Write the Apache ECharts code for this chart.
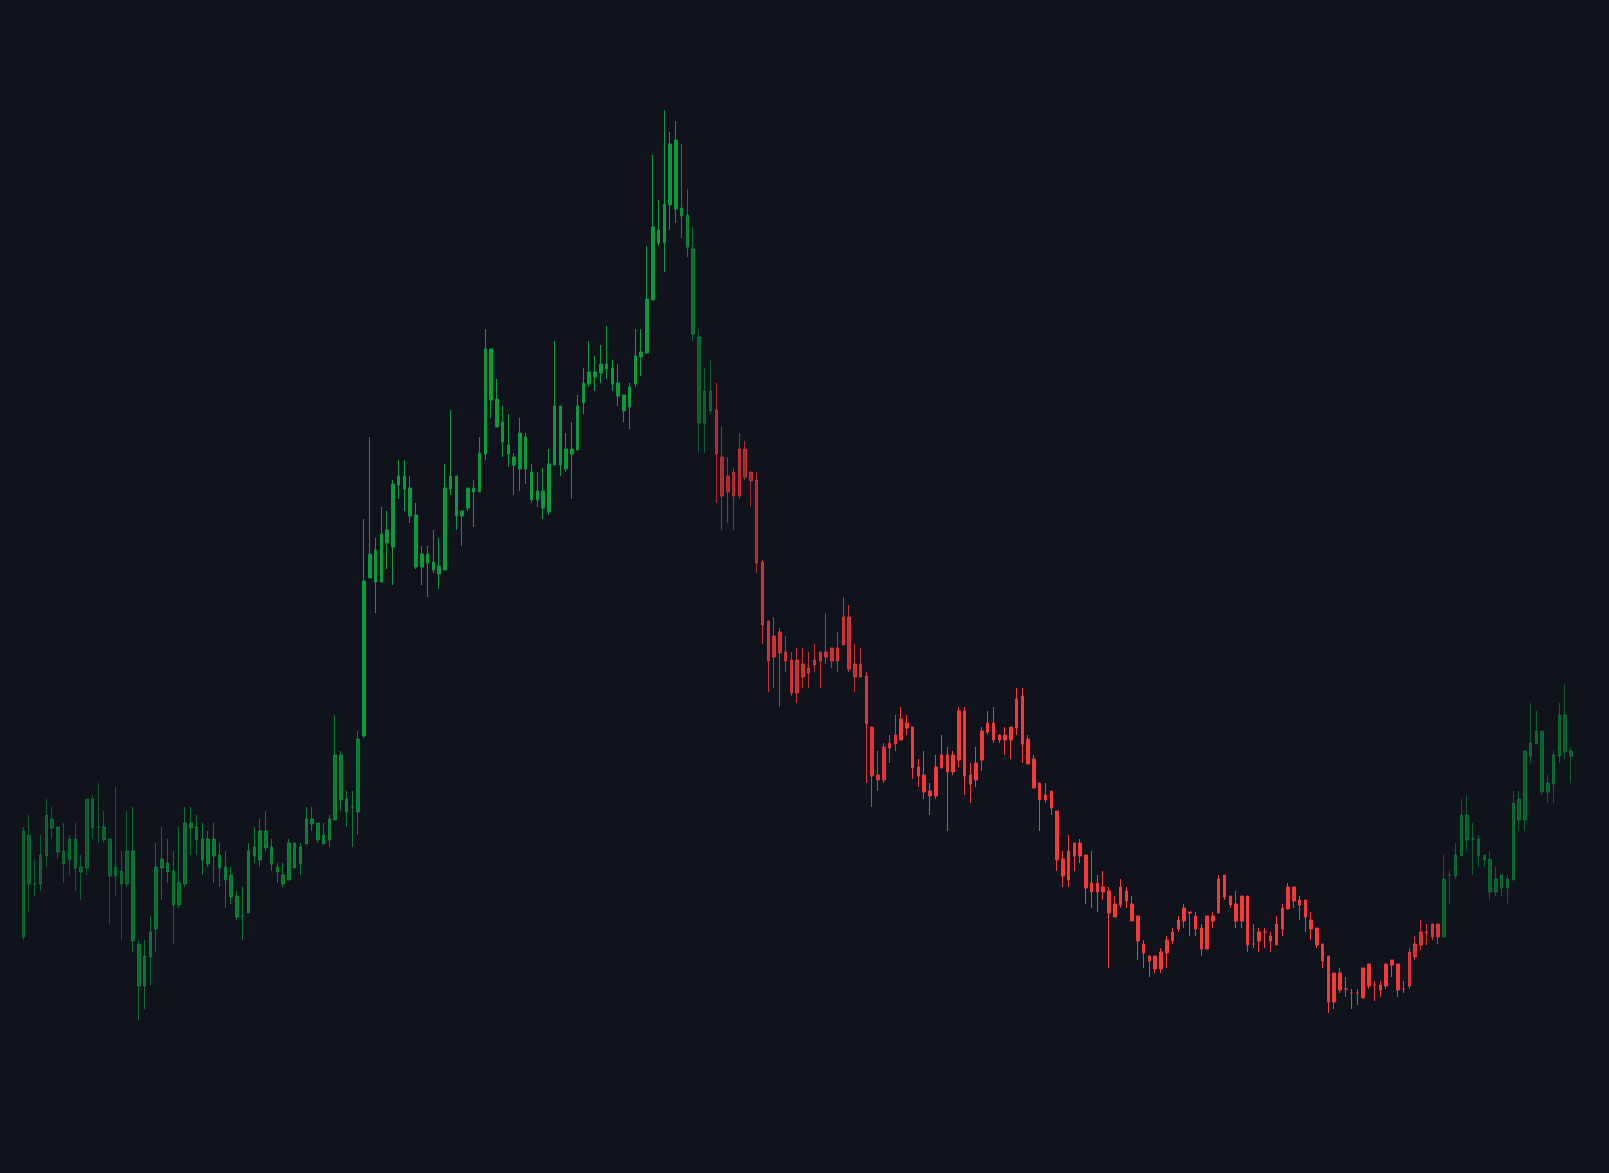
<!DOCTYPE html>
<html>
<head>
<meta charset="utf-8">
<script src="https://cdn.jsdelivr.net/npm/echarts@6/dist/echarts.min.js"></script>
<style>
html,body{margin:0;padding:0;background:#10131c;}
#chart{width:1609px;height:1173px;}
</style>
</head>
<body>
<div id="chart"></div>
<script>
// Price values (body edges, wick extremes), one per session.
const highs = [373,385,341,365,401,393,373,377,365,377,345,401,405,417,389,361,413,349,389,393,
260,260,284,357,373,361,349,373,393,393,385,377,369,377,357,349,333,309,313,357,
373,381,389,361,337,337,361,357,357,393,393,377,377,385,485,449,409,409,469,681,
763,662,693,689,720,740,740,724,697,654,654,670,662,736,790,724,689,712,720,763,
871,851,821,794,786,747,782,767,736,728,732,751,859,794,767,778,805,832,859,844,
855,874,840,836,805,817,871,871,954,1045,1000,1090,1068,1079,1056,1011,973,871,832,840,
817,774,743,732,767,759,728,728,640,579,583,572,564,548,552,552,548,556,548,587,
552,568,603,595,556,552,528,473,449,457,465,485,493,485,473,441,449,417,445,465,
453,449,493,493,437,453,473,489,493,465,473,473,512,512,465,445,417,417,409,389,
349,365,357,361,345,349,325,329,313,304,321,313,304,284,260,244,244,252,264,272,
284,296,288,288,276,284,288,325,325,304,309,304,304,276,272,272,268,284,296,317,
313,304,300,288,272,256,244,227,232,223,211,211,232,236,219,219,236,240,236,219,
252,264,280,276,276,276,345,329,357,401,405,377,365,345,349,333,325,325,409,409,
449,497,489,469,425,449,497,516,453];
const bodyHigh = [369,365,316,345,385,381,373,349,361,361,333,401,401,373,373,361,333,329,349,349,
256,244,268,333,341,337,329,317,377,377,373,361,361,361,345,333,325,304,284,349,
353,369,369,353,333,325,357,357,353,381,381,377,365,381,445,445,401,393,461,619,
646,650,666,670,716,724,724,712,685,646,646,638,634,712,724,724,689,712,712,747,
851,851,801,778,755,743,767,763,728,709,709,736,794,794,751,751,794,817,828,828,
836,836,832,817,805,813,844,848,901,973,970,996,1056,1060,992,985,951,863,809,809,
790,743,724,728,751,751,728,720,638,579,564,568,548,540,540,536,532,540,548,548,
552,552,583,583,536,536,524,473,425,453,457,465,481,477,473,433,425,409,433,445,
445,445,489,489,425,437,469,477,477,465,465,473,501,504,461,441,417,405,409,389,
341,349,357,357,345,317,317,313,309,296,313,309,296,284,256,244,244,248,260,268,
280,292,288,284,272,284,284,321,325,304,296,304,304,256,268,268,264,276,292,313,
313,300,300,280,272,256,244,227,227,211,207,207,232,236,215,215,236,240,236,211,
248,256,268,268,276,276,321,325,345,385,385,361,361,345,341,321,325,321,397,401,
449,457,469,469,417,445,485,485,449];
const bodyLow = [263,316,316,316,344,372,348,336,340,332,328,332,372,373,360,324,324,316,316,259,
214,214,243,271,332,328,295,295,316,372,360,340,336,344,332,320,303,283,284,287,
344,340,352,336,328,316,320,332,336,356,376,360,356,360,380,400,388,393,388,464,
622,618,618,657,653,715,711,684,633,633,637,630,626,630,711,684,684,692,708,708,
746,800,773,758,746,735,731,731,700,700,692,688,735,735,731,746,750,797,816,823,
827,831,816,804,789,793,816,843,847,900,957,957,995,991,984,953,866,777,777,789,
746,704,708,704,704,723,719,637,575,539,543,547,539,507,507,523,527,535,539,543,
539,539,555,531,523,523,476,424,420,420,452,456,460,472,432,424,408,404,404,432,
428,428,440,424,416,420,440,468,460,460,460,460,472,456,436,412,400,400,392,340,
324,320,344,344,312,308,308,308,287,283,295,299,279,259,247,239,231,231,247,259,
271,279,287,271,251,251,279,287,303,295,279,279,255,256,259,268,259,255,271,291,
299,295,283,271,255,239,198,198,210,211,207,207,202,214,215,210,214,235,210,211,
214,243,255,267,263,263,263,325,324,344,360,361,344,340,308,308,312,312,320,380,
380,444,456,408,408,416,444,448,444];
const lows = [260,288,304,309,333,361,341,317,325,309,300,325,361,357,357,276,304,260,313,248,
180,191,215,248,300,317,256,292,313,345,345,325,333,317,313,292,296,280,260,287,
337,333,349,329,317,313,320,332,325,356,369,357,356,353,380,389,373,353,365,462,
622,587,618,631,615,701,689,677,631,615,603,627,611,630,705,670,654,689,673,708,
740,782,773,743,733,705,709,716,697,693,681,685,735,724,728,701,750,786,813,809,
817,821,809,794,778,771,813,824,847,900,954,928,970,977,962,943,859,747,747,786,
697,670,677,670,701,720,693,627,556,508,512,493,528,504,497,512,512,528,512,536,
532,528,555,528,508,523,417,393,409,417,437,449,460,465,421,413,401,385,401,432,
369,425,433,405,397,413,429,465,457,457,445,441,465,437,436,412,369,397,385,329,
313,313,329,337,296,292,288,300,232,283,292,292,279,240,232,223,227,227,232,256,
268,272,264,264,244,251,272,287,300,292,272,272,248,252,248,252,248,255,264,291,
292,280,268,260,252,232,187,191,207,203,191,195,202,211,199,203,211,223,203,207,
211,240,250,255,260,256,263,296,321,344,349,325,333,333,300,304,304,296,320,369,
369,437,456,405,397,397,437,441,417];
const sessions = highs.map((_, i) => 'S' + (i + 1));

// Colour regimes: [first index, last index, colour, opacity]
const GREEN = '#089a3c', RED = '#f5383c';
const regimes = [
  [0, 18, GREEN, 0.55], [19, 30, GREEN, 0.68], [31, 58, GREEN, 0.76], [59, 113, GREEN, 1.0],
  [114, 114, GREEN, 0.88], [115, 115, GREEN, 0.78], [116, 116, GREEN, 0.68], [117, 119, GREEN, 0.55],
  [120, 127, RED, 0.65], [128, 145, RED, 0.78], [146, 151, RED, 0.88], [152, 239, RED, 1.0],
  [240, 245, RED, 0.85], [246, 268, GREEN, 0.55]
];
function styleFor(i) {
  for (const r of regimes) if (i >= r[0] && i <= r[1]) return { c: r[2], o: r[3] };
  return { c: GREEN, o: 1 };
}
const data = highs.map((h, i) => {
  const s = styleFor(i);
  return {
    value: [bodyLow[i], bodyHigh[i], lows[i], h],
    itemStyle: { color: s.c, color0: s.c, borderColor: s.c, borderColor0: s.c, opacity: s.o }
  };
});

const chart = echarts.init(document.getElementById('chart'), null, { renderer: 'canvas' });
chart.setOption({
  backgroundColor: '#10131c',
  animation: false,
  grid: { left: 20.4, right: 35.1, top: 0, bottom: 0 },
  xAxis: { type: 'category', data: sessions, show: false, boundaryGap: true },
  yAxis: { type: 'value', min: 27, max: 1200, show: false },
  series: [{
    type: 'candlestick',
    data: data,
    barWidth: 3,
    itemStyle: { borderWidth: 1 }
  }]
});
</script>
</body>
</html>
